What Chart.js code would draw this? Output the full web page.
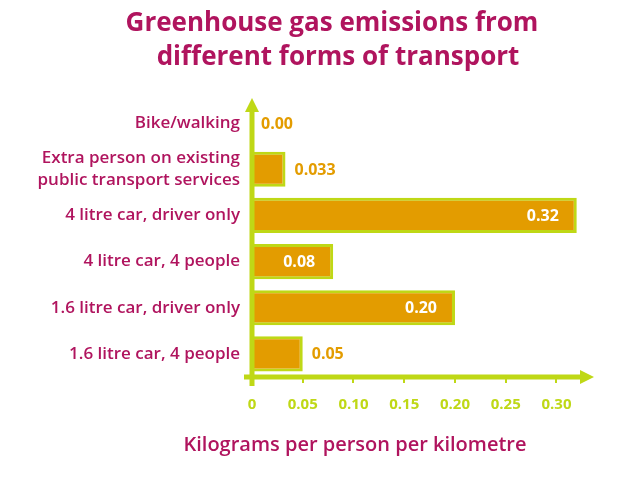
<!DOCTYPE html>
<html>
<head>
<meta charset="utf-8">
<script src="https://cdn.jsdelivr.net/npm/chart.js@4.4.0/dist/chart.umd.min.js"></script>
<style>
  html, body { margin: 0; padding: 0; background: #ffffff; }
  #wrap { width: 640px; height: 480px; }
</style>
</head>
<body>
<div id="wrap"><canvas id="chart"></canvas></div>
<script>
const categories = [
  'Bike/walking',
  ['Extra person on existing', 'public transport services'],
  '4 litre car, driver only',
  '4 litre car, 4 people',
  '1.6 litre car, driver only',
  '1.6 litre car, 4 people'
]
const emissions = [0.00, 0.033, 0.32, 0.08, 0.20, 0.05]
const xTicks = [0, 0.05, 0.10, 0.15, 0.20, 0.25, 0.30]

const titleLines = ['Greenhouse gas emissions from', 'different forms of transport']
const xTitle = 'Kilograms per person per kilometre'

const CRIMSON = '#b0145e'
const LIME = '#bfd816'
const ORANGE = '#e39c00'
const FONT = '"Open Sans", "DejaVu Sans", sans-serif'

const fmt = v => {
  let s = v.toString()
  if (!s.includes('.')) s += '.'
  while (s.split('.')[1].length < 2) s += '0'
  return s
}

// title, axis lines with arrows, value labels
const decor = {
  id: 'decor',
  afterDraw(chart) {
    const ctx = chart.ctx
    const x = chart.scales.x
    const x0 = x.getPixelForValue(0)
    const yb = chart.chartArea.bottom
    const top = chart.chartArea.top
    const right = chart.chartArea.right

    ctx.save()
    ctx.fillStyle = CRIMSON
    ctx.textAlign = 'center'
    ctx.textBaseline = 'middle'
    ctx.font = '700 26px ' + FONT
    ctx.fillText(titleLines[0], 332, 24)
    ctx.fillText(titleLines[1], 338, 58)
    ctx.font = '600 20px ' + FONT
    ctx.fillText(xTitle, 355, 445)

    ctx.strokeStyle = LIME
    ctx.fillStyle = LIME
    ctx.lineWidth = 5
    ctx.beginPath()
    ctx.moveTo(x0, yb + 9)
    ctx.lineTo(x0, top + 6)
    ctx.moveTo(x0 - 8, yb)
    ctx.lineTo(right - 6, yb)
    ctx.stroke()
    ctx.beginPath()
    ctx.moveTo(x0, top - 2)
    ctx.lineTo(x0 - 7, top + 12)
    ctx.lineTo(x0 + 7, top + 12)
    ctx.closePath()
    ctx.fill()
    ctx.beginPath()
    ctx.moveTo(right + 2, yb)
    ctx.lineTo(right - 12, yb - 7)
    ctx.lineTo(right - 12, yb + 7)
    ctx.closePath()
    ctx.fill()

    ctx.font = '700 16px ' + FONT
    ctx.textBaseline = 'middle'
    chart.getDatasetMeta(0).data.forEach((bar, i) => {
      const v = emissions[i]
      if (v >= 0.08) {
        ctx.fillStyle = '#ffffff'
        ctx.textAlign = 'right'
        ctx.fillText(fmt(v), bar.x - 18, bar.y + 1)
      } else {
        ctx.fillStyle = ORANGE
        ctx.textAlign = 'left'
        ctx.fillText(fmt(v), bar.x + 9, bar.y + 1)
      }
    })
    ctx.restore()
  }
}

new Chart(document.getElementById('chart'), {
  type: 'bar',
  data: {
    labels: categories,
    datasets: [{
      data: emissions,
      backgroundColor: ORANGE,
      borderColor: LIME,
      borderWidth: 3,
      borderSkipped: 'left',
      categoryPercentage: 1,
      barPercentage: 0.76
    }]
  },
  options: {
    indexAxis: 'y',
    responsive: true,
    maintainAspectRatio: false,
    animation: false,
    layout: { padding: { top: 100, right: 48, left: 0, bottom: 0 } },
    plugins: {
      legend: { display: false },
      tooltip: { enabled: false }
    },
    scales: {
      x: {
        min: 0,
        max: 0.335,
        afterFit: s => { s.height = 103 },
        afterBuildTicks: s => { s.ticks = xTicks.map(v => ({ value: v })) },
        border: { display: false },
        grid: { drawOnChartArea: false, drawTicks: true, tickLength: 6, color: LIME, lineWidth: 2 },
        ticks: {
          color: LIME,
          padding: 13,
          font: { family: FONT, size: 15, weight: '700' },
          callback: v => v === 0 ? '0' : v.toFixed(2)
        }
      },
      y: {
        afterFit: s => { s.width = 252 },
        border: { display: false },
        grid: { display: false, drawTicks: false },
        ticks: {
          color: CRIMSON,
          padding: 12,
          font: { family: FONT, size: 17, weight: '600', lineHeight: 1.25 }
        }
      }
    }
  },
  plugins: [decor]
})
</script>
</body>
</html>
